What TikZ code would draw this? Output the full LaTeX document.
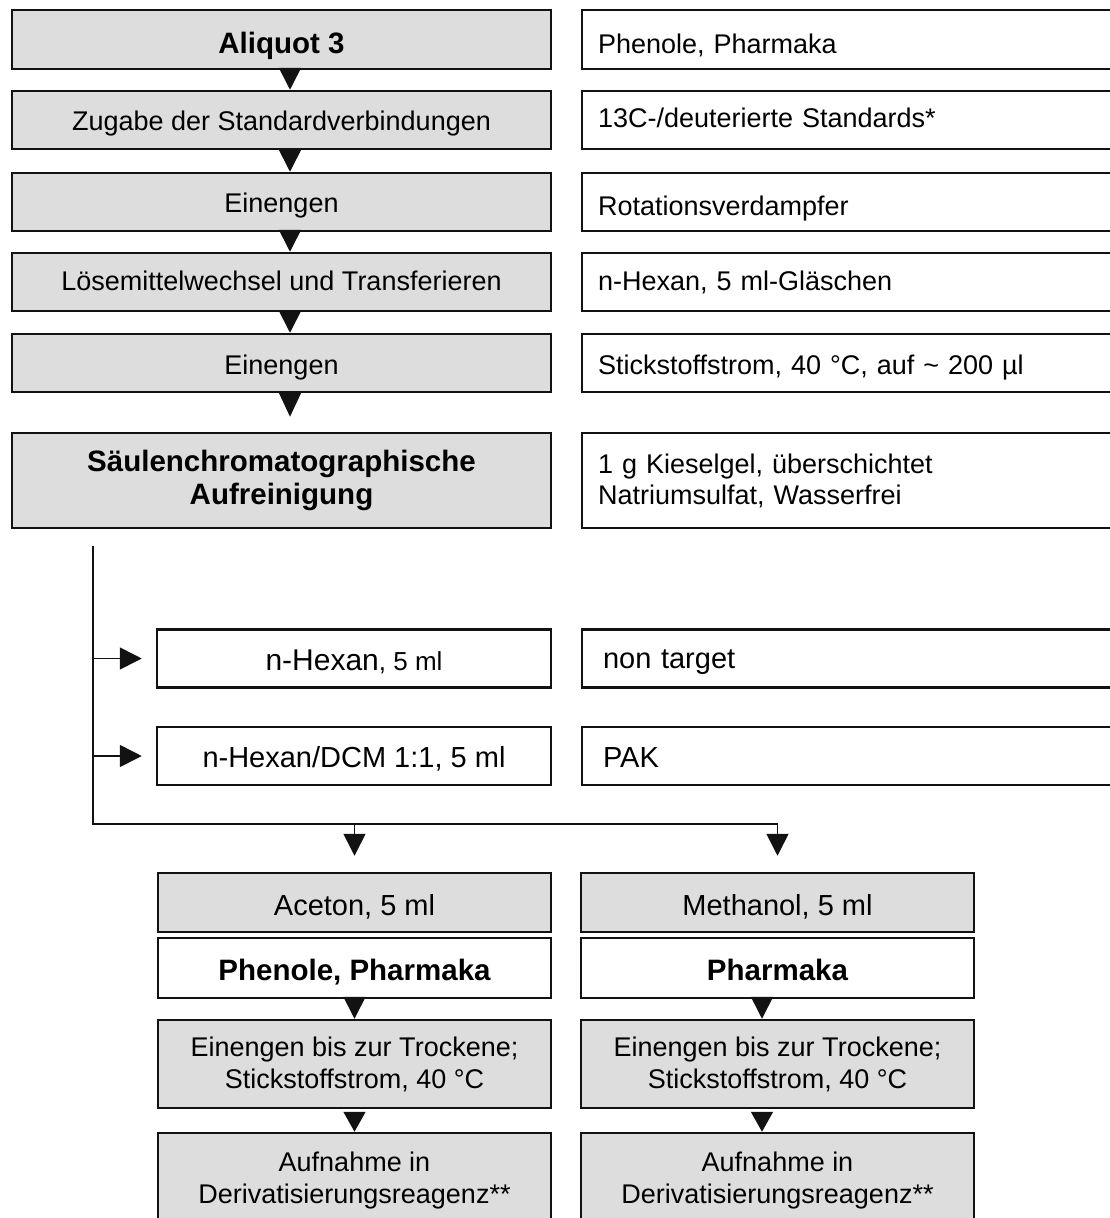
\documentclass[tikz,border=0pt]{standalone}
\usepackage{fontspec}
\setmainfont{Liberation Sans}
\usetikzlibrary{arrows.meta}
\definecolor{boxgray}{RGB}{221,221,221}
\definecolor{ink}{RGB}{18,18,18}
\newcommand\txtReg{\fontsize{27}{31}\selectfont}
\newcommand\txtMid{\fontsize{29}{33}\selectfont}
\newcommand\txtBold{\fontsize{29.5}{33}\selectfont\bfseries}
\begin{document}
\begin{tikzpicture}[x=1pt,y=-1pt,
  stepbox/.style={draw=ink, fill=boxgray, line width=2.5pt, inner sep=0pt, align=center, font=\txtReg},
  plainbox/.style={stepbox, fill=white},
  notebox/.style={draw=ink, fill=white, line width=2.5pt, inner xsep=16pt, inner ysep=0pt,
                  text width=500pt, align=left, font=\txtReg},
  widebox/.style={minimum width=539pt},
  lowbox/.style={minimum width=393pt},
  baseline at/.style={text height=#1, text depth=0pt},
  tip/.style={-{Triangle[width=22pt,length=22pt]}},
  conn/.style={draw=ink, line width=1.6pt}
]
\useasboundingbox (0,0) rectangle (1110,1218);
\clip (0,0) rectangle (1110,1218);

% ---- preparation sequence
\node[stepbox, widebox, minimum height=59pt, font=\txtBold, baseline at=27pt] (a1) at (281.5,39.5) {Aliquot 3};
\node[stepbox, widebox, minimum height=58pt, baseline at=20pt] (a2) at (281.5,120) {Zugabe der Standardverbindungen};
\node[stepbox, widebox, minimum height=58pt, baseline at=20pt] (a3) at (281.5,202) {Einengen};
\node[stepbox, widebox, minimum height=58pt, baseline at=17pt] (a4) at (281.5,282) {Lösemittelwechsel und Transferieren};
\node[stepbox, widebox, minimum height=58pt, baseline at=23pt] (a5) at (281.5,363) {Einengen};
\node[stepbox, widebox, minimum height=95pt, font=\txtBold, inner ysep=0pt, yshift=0pt] (a6) at (281.5,480.5)
  {\rule{0pt}{6pt}Säulenchromatographische\\Aufreinigung};

% ---- remarks beside each step
\node[notebox, minimum height=59pt, baseline at=27pt] (n1) at (848,39.5) {Phenole, Pharmaka};
\node[notebox, minimum height=58pt, baseline at=15pt] (n2) at (848,120) {13C-/deuterierte Standards*};
\node[notebox, minimum height=58pt, baseline at=26pt] (n3) at (848,202) {Rotationsverdampfer};
\node[notebox, minimum height=58pt, baseline at=17pt] (n4) at (848,282) {n-Hexan, 5 ml-Gläschen};
\node[notebox, minimum height=58pt, baseline at=23pt] (n5) at (848,363) {Stickstoffstrom, 40 °C, auf \textasciitilde\ 200 µl};
\node[notebox, minimum height=95pt] (n6) at (848,480.5) {1 g Kieselgel, überschichtet\\Natriumsulfat, Wasserfrei};

\foreach \u/\v in {a1/a2, a2/a3, a3/a4, a4/a5}
  \draw[conn, tip] ([xshift=8.5pt]\u.south) -- ([xshift=8.5pt]\v.north);
\draw[conn, -{Triangle[width=22pt,length=24pt]}, shorten >=15pt] ([xshift=8.5pt]a5.south) -- ([xshift=8.5pt]a6.north);

% ---- elution fractions
\node[plainbox, minimum width=394pt, minimum height=58pt, baseline at=23pt] (e1) at (354,658.5)
  {{\fontsize{30}{34}\selectfont n-Hexan}{\fontsize{26}{30}\selectfont, 5 ml}};
\node[plainbox, minimum width=394pt, minimum height=58pt, font=\txtMid, baseline at=22pt] (e2) at (354,756) {n-Hexan/DCM 1:1, 5 ml};
\node[notebox, inner xsep=21pt, text width=490pt, minimum height=58pt, font=\txtMid, baseline at=20pt] (f1) at (848,658.5) {non target};
\node[notebox, inner xsep=21pt, text width=490pt, minimum height=58pt, font=\txtMid, baseline at=22pt] (f2) at (848,756) {PAK};

% ---- polar fractions
\node[stepbox, lowbox, minimum height=59pt, font=\txtMid, baseline at=25pt] (p1) at (354.5,902.5) {Aceton, 5 ml};
\node[plainbox, lowbox, minimum height=60pt, font=\txtBold, baseline at=24pt] (p2) at (354.5,968) {Phenole, Pharmaka};
\node[stepbox, lowbox, minimum height=88pt, font=\fontsize{27}{32}\selectfont] (p3) at (354.5,1064) {Einengen bis zur Trockene;\\Stickstoffstrom, 40 °C};
\node[stepbox, lowbox, minimum height=95pt, font=\fontsize{27}{32}\selectfont] (p4) at (354.5,1180.5) {Aufnahme in\\Derivatisierungsreagenz**};

\node[stepbox, lowbox, minimum height=59pt, font=\txtMid, baseline at=25pt] (m1) at (777.5,902.5) {Methanol, 5 ml};
\node[plainbox, lowbox, minimum height=60pt, font=\txtBold, baseline at=24pt] (m2) at (777.5,968) {Pharmaka};
\node[stepbox, lowbox, minimum height=88pt, font=\fontsize{27}{32}\selectfont] (m3) at (777.5,1064) {Einengen bis zur Trockene;\\Stickstoffstrom, 40 °C};
\node[stepbox, lowbox, minimum height=95pt, font=\fontsize{27}{32}\selectfont] (m4) at (777.5,1180.5) {Aufnahme in\\Derivatisierungsreagenz**};

\draw[conn, tip] (p2.south) -- (p3.north);
\draw[conn, -{Triangle[width=22pt,length=20pt]}, shorten <=5pt] (p3.south) -- (p4.north);
\draw[conn, tip] ([xshift=-15.5pt]m2.south) -- ([xshift=-15.5pt]m3.north);
\draw[conn, -{Triangle[width=22pt,length=20pt]}, shorten <=5pt] ([xshift=-15.5pt]m3.south) -- ([xshift=-15.5pt]m4.north);

% ---- column outlet and its branches
\coordinate (outlet) at (93,546);
\coordinate (bend) at (93,824);
\draw[conn, tip, shorten >=16pt] (outlet) -- (bend) -| (m1.north);
\draw[conn, tip, shorten >=16pt] (bend -| p1.north) -- (p1.north);
\draw[conn, tip, shorten >=14pt] (outlet |- e1.west) -- (e1.west);
\draw[conn, tip, shorten >=14pt] (outlet |- e2.west) -- (e2.west);
\end{tikzpicture}
\end{document}
